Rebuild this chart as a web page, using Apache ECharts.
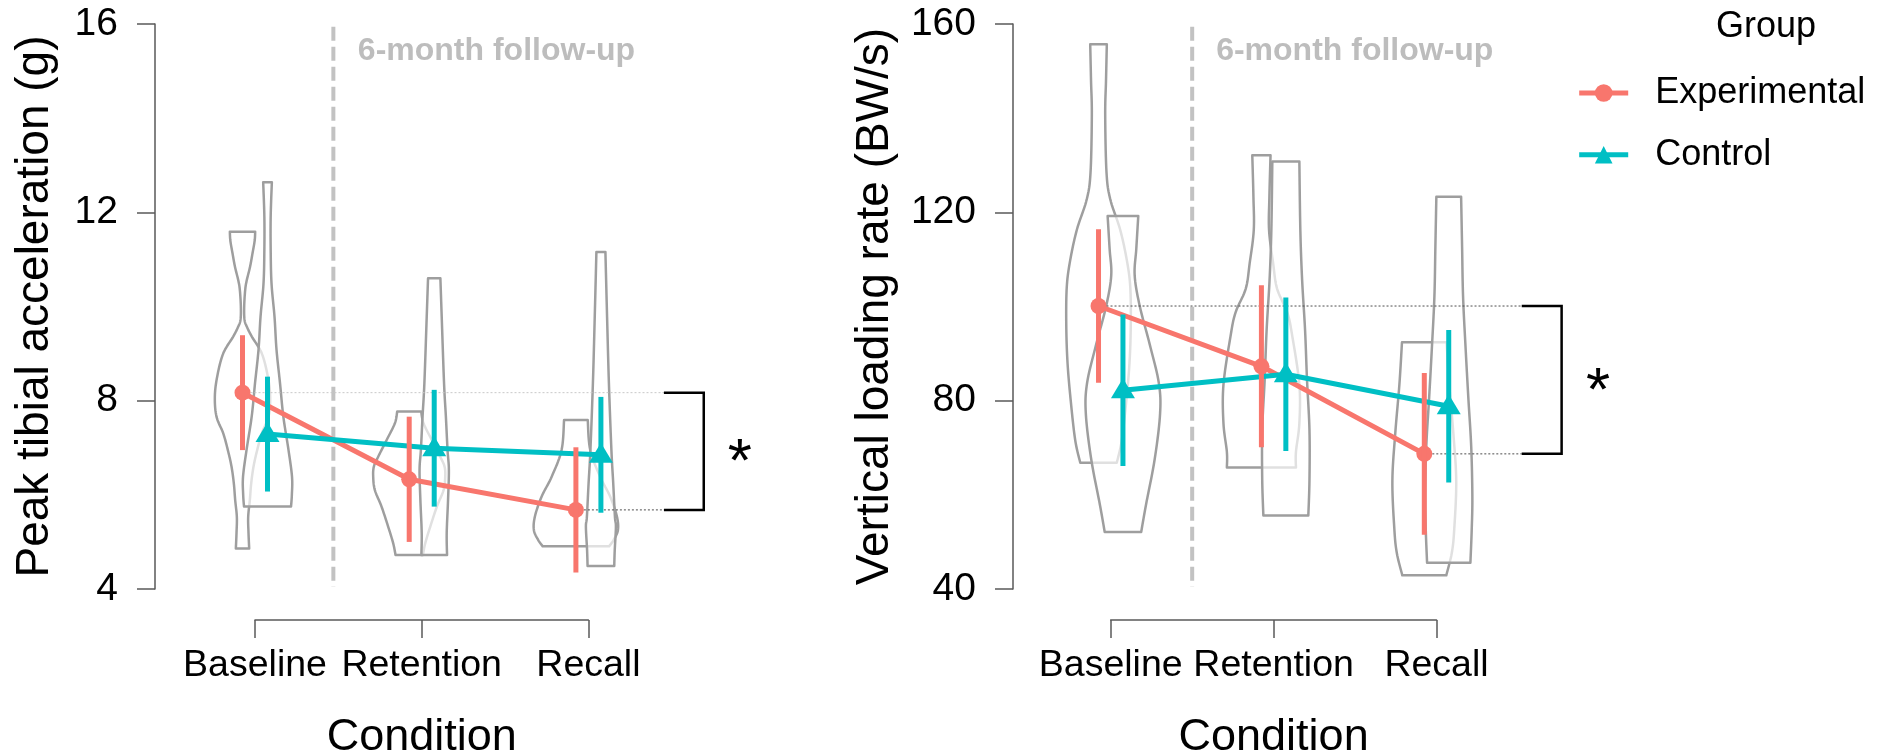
<!DOCTYPE html>
<html><head><meta charset="utf-8">
<script src="https://cdn.jsdelivr.net/npm/echarts@6/dist/echarts.min.js"></script>
<style>html,body{margin:0;padding:0;background:#fff}#main{width:1890px;height:753px}</style>
</head><body><div id="main"></div>
<script>
// ---------------- data ----------------
const categories = ['Baseline', 'Retention', 'Recall'];
const groupNames = ['Experimental', 'Control'];
const yTitleA = 'Peak tibial acceleration (g)';
const yTitleB = 'Vertical loading rate (BW/s)';
const xTitle = 'Condition';
const followUpLabel = '6-month follow-up';
const sigLabel = '*';
const legendTitle = 'Group';

// Panel A: peak tibial acceleration (g)
const ptaTicks = [4, 8, 12, 16];
const ptaExpMean = [8.17, 6.33, 5.68];
const ptaExpErr = [1.22, 1.33, 1.33];
const ptaCtrlMean = [7.29, 6.99, 6.85];
const ptaCtrlErr = [1.22, 1.24, 1.23];

// Panel B: vertical loading rate (BW/s)
const vlrTicks = [40, 80, 120, 160];
const vlrExpMean = [100.1, 87.3, 68.7];
const vlrExpErr = [16.3, 17.2, 17.2];
const vlrCtrlMean = [82.2, 85.6, 78.8];
const vlrCtrlErr = [16.1, 16.3, 16.2];

// violin density profiles: [value, half-width in category units]
const ptaVioExpBaseline = [[11.59,0.076],[11.40,0.073],[11.13,0.060],[10.84,0.045],[10.55,0.025],[10.35,0.016],[10.00,0.010],[9.72,0.012],[9.57,0.026],[9.36,0.056],[9.00,0.116],[8.51,0.152],[8.08,0.166],[7.66,0.156],[7.31,0.116],[6.95,0.088],[6.60,0.066],[6.24,0.052],[5.89,0.044],[5.53,0.034],[5.19,0.036],[4.86,0.040]];
const ptaVioCtrlBaseline = [[12.64,0.026],[11.91,0.019],[11.20,0.019],[10.49,0.024],[9.78,0.042],[9.08,0.054],[8.37,0.075],[7.66,0.095],[6.95,0.126],[6.38,0.147],[6.00,0.146],[5.75,0.141]];
const ptaVioExpRetention = [[7.77,0.072],[7.52,0.086],[7.16,0.136],[6.81,0.186],[6.60,0.212],[6.38,0.216],[6.10,0.206],[5.75,0.166],[5.32,0.126],[4.97,0.096],[4.72,0.082]];
const ptaVioCtrlRetention = [[10.60,0.037],[9.78,0.045],[8.37,0.059],[7.66,0.070],[6.95,0.080],[6.53,0.088],[5.89,0.083],[5.19,0.075],[4.72,0.077]];
const ptaVioExpRecall = [[7.59,0.071],[6.95,0.086],[6.38,0.146],[5.96,0.206],[5.54,0.246],[5.25,0.252],[5.04,0.226],[4.91,0.200]];
const ptaVioCtrlRecall = [[11.16,0.027],[9.78,0.037],[8.37,0.048],[6.95,0.063],[6.24,0.074],[5.54,0.084],[5.32,0.090],[4.83,0.083],[4.49,0.080]];

const vlrVioExpBaseline = [[155.7,0.051],[148.0,0.046],[140.7,0.041],[128.5,0.049],[122.8,0.072],[116.3,0.133],[109.8,0.174],[104.1,0.195],[96.0,0.198],[87.9,0.190],[79.8,0.170],[71.6,0.143],[66.8,0.112]];
const vlrVioCtrlBaseline = [[119.2,0.094],[112.3,0.082],[106.6,0.072],[100.1,0.103],[92.0,0.164],[83.8,0.220],[77.3,0.228],[67.6,0.195],[57.8,0.141],[52.1,0.112]];
const vlrVioExpRetention = [[132.1,0.056],[123.3,0.049],[116.2,0.047],[109.2,0.072],[103.8,0.096],[98.7,0.159],[93.6,0.190],[83.4,0.233],[75.2,0.233],[69.1,0.212],[65.8,0.212]];
const vlrVioCtrlRetention = [[130.8,0.083],[116.2,0.089],[105.6,0.100],[95.0,0.118],[84.4,0.130],[73.8,0.145],[63.1,0.145],[55.6,0.138]];
const vlrVioExpRecall = [[92.4,0.137],[83.4,0.153],[73.2,0.178],[63.0,0.196],[52.8,0.184],[47.7,0.169],[42.9,0.135]];
const vlrVioCtrlRecall = [[123.3,0.076],[112.7,0.082],[102.1,0.088],[91.5,0.103],[80.8,0.120],[70.2,0.138],[59.6,0.145],[52.5,0.141],[45.6,0.133]];

// ---------------- styling / layout ----------------
const FONT = 'Liberation Sans';
const EXP_COLOR = '#F8766D';
const CTRL_COLOR = '#00BFC4';
const AXIS_COLOR = '#595959';
const DODGE = 0.075;

const panels = [
  {
    expMean: ptaExpMean, expErr: ptaExpErr, ctrlMean: ptaCtrlMean, ctrlErr: ptaCtrlErr,
    violins: [ptaVioExpBaseline, ptaVioCtrlBaseline, ptaVioExpRetention, ptaVioCtrlRetention, ptaVioExpRecall, ptaVioCtrlRecall],
    ticks: ptaTicks, title: yTitleA, nameGap: 97,
    grid: {left: 155, top: 24, width: 600.1, height: 565}, xMin: 0.4, xMax: 4.0,
    axisGrid: {left: 255, top: 619, width: 333.4, height: 1},
    divider: 1.47, bracketArm: 3.453, bracketX: 3.692, starX: 3.909,
    refTopColor: '#C8C8C8', refBotColor: '#4D4D4D'
  },
  {
    expMean: vlrExpMean, expErr: vlrExpErr, ctrlMean: vlrCtrlMean, ctrlErr: vlrCtrlErr,
    violins: [vlrVioExpBaseline, vlrVioCtrlBaseline, vlrVioExpRetention, vlrVioCtrlRetention, vlrVioExpRecall, vlrVioCtrlRecall],
    ticks: vlrTicks, title: yTitleB, nameGap: 115,
    grid: {left: 1013, top: 24, width: 602.7, height: 565}, xMin: 0.4, xMax: 4.1,
    axisGrid: {left: 1110.7, top: 619, width: 325.8, height: 1},
    divider: 1.5, bracketArm: 3.523, bracketX: 3.768, starX: 3.991,
    refTopColor: '#4D4D4D', refBotColor: '#4D4D4D'
  }
];

function densify(pts, n) {
  const out = [];
  for (let i = 0; i < pts.length - 1; i++) {
    const p0 = pts[Math.max(i - 1, 0)], p1 = pts[i], p2 = pts[i + 1], p3 = pts[Math.min(i + 2, pts.length - 1)];
    for (let k = 0; k < n; k++) {
      const t = k / n, t2 = t * t, t3 = t2 * t;
      const f = (a, b, c, d) => 0.5 * ((2 * b) + (-a + c) * t + (2 * a - 5 * b + 4 * c - d) * t2 + (-a + 3 * b - 3 * c + d) * t3);
      out.push([f(p0[0], p1[0], p2[0], p3[0]), Math.max(0.003, f(p0[1], p1[1], p2[1], p3[1]))]);
    }
  }
  out.push(pts[pts.length - 1]);
  return out;
}

const grids = [], xAxes = [], yAxes = [], series = [];
const axisLineStyle = {color: AXIS_COLOR, width: 1.5};

panels.forEach((P, p) => {
  const yMin = P.ticks[0], yMax = P.ticks[P.ticks.length - 1], yInt = P.ticks[1] - P.ticks[0];
  const yRange = yMax - yMin;
  grids.push(Object.assign({containLabel: false, outerBoundsMode: 'none'}, P.grid));
  grids.push(Object.assign({containLabel: false, outerBoundsMode: 'none'}, P.axisGrid));
  const gMain = 2 * p, gAxis = 2 * p + 1;

  xAxes.push({gridIndex: gMain, type: 'value', min: P.xMin, max: P.xMax, show: false});
  xAxes.push({
    gridIndex: gAxis, type: 'category', data: categories, boundaryGap: false, position: 'bottom',
    axisLine: {show: true, onZero: false, lineStyle: axisLineStyle},
    axisTick: {show: true, length: 18, lineStyle: axisLineStyle},
    axisLabel: {show: true, interval: 0, fontSize: 37.5, color: '#000', fontFamily: FONT, margin: 27},
    splitLine: {show: false},
    name: xTitle, nameLocation: 'middle', nameGap: 95,
    nameTextStyle: {fontSize: 45, color: '#000', fontFamily: FONT}
  });
  yAxes.push({
    gridIndex: gMain, type: 'value', min: yMin, max: yMax, interval: yInt, position: 'left',
    axisLine: {show: true, onZero: false, lineStyle: axisLineStyle},
    axisTick: {show: true, length: 18, lineStyle: axisLineStyle},
    axisLabel: {show: true, fontSize: 39, color: '#000', fontFamily: FONT, margin: 37},
    splitLine: {show: false},
    name: P.title, nameLocation: 'middle', nameGap: P.nameGap,
    nameTextStyle: {fontSize: 46, color: '#000', fontFamily: FONT}
  });
  yAxes.push({gridIndex: gAxis, type: 'value', show: false});

  const xi = 2 * p, yi = 2 * p;
  const expX = P.expMean.map((m, i) => i + 1 - DODGE);
  const ctrlX = P.ctrlMean.map((m, i) => i + 1 + DODGE);

  // violins (exp then ctrl per condition)
  const vioData = [];
  categories.forEach((c, i) => {
    vioData.push([i + 1 - DODGE, 2 * i]);
    vioData.push([i + 1 + DODGE, 2 * i + 1]);
  });
  series.push({
    type: 'custom', xAxisIndex: xi, yAxisIndex: yi, z: 1, silent: true, clip: false,
    data: vioData,
    renderItem: (params, api) => {
      const xc = api.value(0), idx = api.value(1);
      const prof = densify(P.violins[idx], 10);
      const right = prof.map(([v, w]) => api.coord([xc + w, v]));
      const left = prof.slice().reverse().map(([v, w]) => api.coord([xc - w, v]));
      return {
        type: 'polygon', shape: {points: right.concat(left)},
        style: {fill: 'rgba(255,255,255,0.68)', stroke: '#9E9E9E', lineWidth: 2.5, lineJoin: 'round'}
      };
    }
  });

  // vertical dashed divider
  series.push({
    type: 'custom', xAxisIndex: xi, yAxisIndex: yi, z: 2, silent: true, clip: false,
    data: [[P.divider, yMax - 0.005 * yRange, yMin + 0.0035 * yRange]],
    renderItem: (params, api) => {
      const a = api.coord([api.value(0), api.value(1)]), b = api.coord([api.value(0), api.value(2)]);
      return {type: 'line', shape: {x1: a[0], y1: a[1], x2: b[0], y2: b[1]},
        style: {stroke: '#C2C2C2', lineWidth: 4, lineDash: [14, 6]}};
    }
  });

  // "6-month follow-up" label
  series.push({
    type: 'custom', xAxisIndex: xi, yAxisIndex: yi, z: 2, silent: true, clip: false,
    data: [[P.divider + 0.147, yMax - 0.0475 * yRange]],
    renderItem: (params, api) => {
      const a = api.coord([api.value(0), api.value(1)]);
      return {type: 'text', x: a[0], y: a[1],
        style: {text: followUpLabel, fill: '#BDBDBD', fontSize: 32, fontWeight: 'bold', fontFamily: FONT,
          align: 'left', verticalAlign: 'middle'}};
    }
  });

  // dotted reference lines
  const refColors = [P.refTopColor, P.refBotColor];
  series.push({
    type: 'custom', xAxisIndex: xi, yAxisIndex: yi, z: 2, silent: true, clip: false,
    data: [[expX[0], P.expMean[0], P.bracketArm], [expX[2], P.expMean[2], P.bracketArm]],
    renderItem: (params, api) => {
      const a = api.coord([api.value(0), api.value(1)]), b = api.coord([api.value(2), api.value(1)]);
      return {type: 'line', shape: {x1: a[0], y1: a[1], x2: b[0], y2: b[1]},
        style: {stroke: refColors[params.dataIndex], lineWidth: 1, lineDash: [2, 2]}};
    }
  });

  // significance bracket + asterisk
  series.push({
    type: 'custom', xAxisIndex: xi, yAxisIndex: yi, z: 2, silent: true, clip: false,
    data: [[P.bracketArm, P.bracketX, P.expMean[0], P.expMean[2], P.starX]],
    renderItem: (params, api) => {
      const arm = api.value(0), bx = api.value(1), top = api.value(2), bot = api.value(3), sx = api.value(4);
      const p1 = api.coord([arm, top]), p2 = api.coord([bx, top]), p3 = api.coord([bx, bot]), p4 = api.coord([arm, bot]);
      const s = api.coord([sx, (top + bot) / 2]);
      return {type: 'group', children: [
        {type: 'polyline', shape: {points: [p1, p2, p3, p4]}, style: {stroke: '#000', lineWidth: 2.5, fill: null}},
        {type: 'text', x: s[0], y: s[1] + 13,
          style: {text: sigLabel, fill: '#000', fontSize: 62, fontFamily: FONT, align: 'center', verticalAlign: 'middle'}}
      ]};
    }
  });

  // mean lines
  series.push({
    name: groupNames[0], type: 'line', xAxisIndex: xi, yAxisIndex: yi, z: 3, silent: true,
    data: P.expMean.map((m, i) => [expX[i], m]),
    symbol: 'circle', symbolSize: 16,
    lineStyle: {color: EXP_COLOR, width: 5}, itemStyle: {color: EXP_COLOR}
  });
  series.push({
    name: groupNames[1], type: 'line', xAxisIndex: xi, yAxisIndex: yi, z: 3, silent: true,
    data: P.ctrlMean.map((m, i) => [ctrlX[i], m]),
    symbol: 'triangle', symbolSize: [24, 20], symbolOffset: [0, -2],
    lineStyle: {color: CTRL_COLOR, width: 5}, itemStyle: {color: CTRL_COLOR}
  });

  // error bars
  const ebColors = [];
  const ebData = [];
  P.expMean.forEach((m, i) => { ebData.push([expX[i], m - P.expErr[i], m + P.expErr[i]]); ebColors.push(EXP_COLOR); });
  P.ctrlMean.forEach((m, i) => { ebData.push([ctrlX[i], m - P.ctrlErr[i], m + P.ctrlErr[i]]); ebColors.push(CTRL_COLOR); });
  series.push({
    type: 'custom', xAxisIndex: xi, yAxisIndex: yi, z: 4, silent: true, clip: false,
    data: ebData,
    renderItem: (params, api) => {
      const a = api.coord([api.value(0), api.value(1)]), b = api.coord([api.value(0), api.value(2)]);
      return {type: 'line', shape: {x1: a[0], y1: a[1], x2: b[0], y2: b[1]},
        style: {stroke: ebColors[params.dataIndex], lineWidth: 5}};
    }
  });
});

const chart = echarts.init(document.getElementById('main'), null, {renderer: 'canvas'});
chart.setOption({
  animation: false,
  backgroundColor: '#fff',
  textStyle: {fontFamily: FONT},
  title: {text: legendTitle, left: 1716, top: 9, padding: 0,
    textStyle: {fontSize: 36, fontWeight: 'normal', color: '#000', fontFamily: FONT}},
  legend: {
    data: groupNames, orient: 'vertical', left: 1576.7, top: 75, padding: 0,
    itemWidth: 49, itemHeight: 22, itemGap: 25.7, selectedMode: false,
    lineStyle: {width: 5},
    textStyle: {fontSize: 36, color: '#000', fontFamily: FONT, padding: [0, 0, 0, 22]}
  },
  grid: grids, xAxis: xAxes, yAxis: yAxes, series: series
});
</script></body></html>
